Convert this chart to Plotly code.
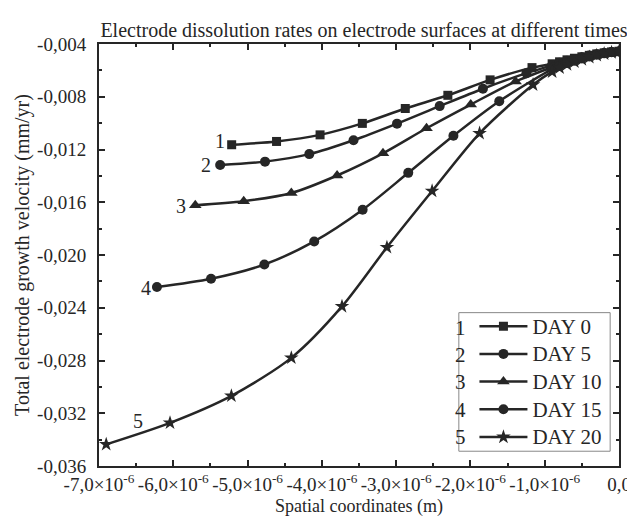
import plotly.graph_objects as go

# ---- data (x in m, y in mm/yr) ----
x_day0 = [-5.214e-6, -4.610e-6, -4.024e-6, -3.455e-6, -2.877e-6, -2.304e-6, -1.735e-6, -1.171e-6,
          -0.9e-6, -0.8e-6, -0.7e-6, -0.6e-6, -0.5e-6, -0.4e-6, -0.3e-6, -0.2e-6, -0.1e-6, 0.0]
y_day0 = [-0.01164, -0.01139, -0.01089, -0.01002, -0.00889, -0.00789, -0.00672, -0.00579,
          -0.00550, -0.00535, -0.00520, -0.00508, -0.00497, -0.00486, -0.00475, -0.00467, -0.00460, -0.00455]

x_day5 = [-5.369e-6, -4.765e-6, -4.169e-6, -3.574e-6, -2.988e-6, -2.414e-6, -1.832e-6, -1.246e-6,
          -0.9e-6, -0.8e-6, -0.7e-6, -0.6e-6, -0.5e-6, -0.4e-6, -0.3e-6, -0.2e-6, -0.1e-6, 0.0]
y_day5 = [-0.01317, -0.01292, -0.01235, -0.01130, -0.01004, -0.00871, -0.00739, -0.00621,
          -0.00561, -0.00543, -0.00527, -0.00513, -0.00500, -0.00488, -0.00477, -0.00468, -0.00461, -0.00456]

x_day10 = [-5.704e-6, -5.052e-6, -4.411e-6, -3.795e-6, -3.177e-6, -2.591e-6, -1.996e-6, -1.392e-6,
           -0.9e-6, -0.8e-6, -0.7e-6, -0.6e-6, -0.5e-6, -0.4e-6, -0.3e-6, -0.2e-6, -0.1e-6, 0.0]
y_day10 = [-0.01622, -0.01592, -0.01530, -0.01397, -0.01229, -0.01039, -0.00859, -0.00684,
           -0.00576, -0.00556, -0.00537, -0.00520, -0.00505, -0.00491, -0.00479, -0.00469, -0.00461, -0.00456]

x_day15 = [-6.220e-6, -5.492e-6, -4.774e-6, -4.103e-6, -3.451e-6, -2.837e-6, -2.229e-6, -1.612e-6,
           -0.9e-6, -0.8e-6, -0.7e-6, -0.6e-6, -0.5e-6, -0.4e-6, -0.3e-6, -0.2e-6, -0.1e-6, 0.0]
y_day15 = [-0.02243, -0.02180, -0.02072, -0.01897, -0.01657, -0.01377, -0.01096, -0.00834,
           -0.00590, -0.00566, -0.00545, -0.00527, -0.00510, -0.00495, -0.00482, -0.00471, -0.00462, -0.00456]

x_day20 = [-6.903e-6, -6.044e-6, -5.218e-6, -4.411e-6, -3.729e-6, -3.124e-6, -2.516e-6, -1.877e-6, -1.157e-6,
           -0.9e-6, -0.8e-6, -0.7e-6, -0.6e-6, -0.5e-6, -0.4e-6, -0.3e-6, -0.2e-6, -0.1e-6, 0.0]
y_day20 = [-0.03436, -0.03273, -0.03068, -0.02780, -0.02390, -0.01942, -0.01515, -0.01077, -0.00709,
           -0.00610, -0.00580, -0.00556, -0.00535, -0.00517, -0.00500, -0.00486, -0.00474, -0.00464, -0.00457]

series_names = ["DAY 0", "DAY 5", "DAY 10", "DAY 15", "DAY 20"]
series_numbers = ["1", "2", "3", "4", "5"]
series_symbols = ["square", "circle", "triangle-up", "circle", "star"]

x_tickvals = [-7e-6, -6e-6, -5e-6, -4e-6, -3e-6, -2e-6, -1e-6, 0.0]
x_ticktext = ["-7,0×10<sup>-6</sup>", "-6,0×10<sup>-6</sup>", "-5,0×10<sup>-6</sup>", "-4,0×10<sup>-6</sup>",
              "-3,0×10<sup>-6</sup>", "-2,0×10<sup>-6</sup>", "-1,0×10<sup>-6</sup>", "0,0"]
y_tickvals = [-0.036, -0.032, -0.028, -0.024, -0.020, -0.016, -0.012, -0.008, -0.004]
y_ticktext = ["-0,036", "-0,032", "-0,028", "-0,024", "-0,020", "-0,016", "-0,012", "-0,008", "-0,004"]

# curve label positions (data coords)
label_x = [-5.37e-6, -5.56e-6, -5.89e-6, -6.37e-6, -6.48e-6]
label_y = [-0.01134, -0.01314, -0.01629, -0.02248, -0.03261]

INK = "#262626"
FONT = "Liberation Serif, Times New Roman, serif"

xs = [x_day0, x_day5, x_day10, x_day15, x_day20]
ys = [y_day0, y_day5, y_day10, y_day15, y_day20]
sizes = [9, 10, 11, 10, 11]

fig = go.Figure()
for xv, yv, name, sym, sz in zip(xs, ys, series_names, series_symbols, sizes):
    fig.add_trace(go.Scatter(
        x=xv, y=yv, name='<span style="font-size:21px">' + name + '</span>', mode="lines+markers",
        line=dict(color=INK, width=2.5, shape="spline", smoothing=0.8),
        marker=dict(symbol=sym, size=sz, color=INK),
    ))

for t, lx, ly in zip(series_numbers, label_x, label_y):
    fig.add_annotation(x=lx, y=ly, xref="x", yref="y", text=t, showarrow=False,
                       font=dict(family=FONT, size=20, color=INK))

# legend frame and numbers
leg_x0, leg_x1 = 0.692, 0.983
leg_y0, leg_y1 = 0.035, 0.3634
fig.add_shape(type="rect", xref="paper", yref="paper", x0=leg_x0, x1=leg_x1, y0=leg_y0, y1=leg_y1,
              line=dict(color="#888888", width=1), fillcolor="white", layer="below")
row_px = [323, 350, 377, 405, 433]
for t, py in zip(series_numbers, row_px):
    fig.add_annotation(x=(467 - 91) / 530, y=(462 - py) / 426.5, xref="paper", yref="paper",
                       yanchor="middle", text=t, showarrow=False,
                       font=dict(family=FONT, size=21, color=INK))

axis_common = dict(
    showline=True, linecolor=INK, linewidth=2, mirror="ticks", ticks="inside",
    ticklen=6, tickwidth=1.5, tickcolor=INK, showgrid=False, zeroline=False,
    tickfont=dict(family=FONT, size=19, color=INK),
)

fig.update_layout(
    width=635, height=517,
    margin=dict(l=91, r=14, t=36, b=55),
    paper_bgcolor="white", plot_bgcolor="white",
    font=dict(family=FONT, color=INK),
    title=dict(text="Electrode dissolution rates on electrode surfaces at different times",
               x=(91 + 621) / 2 / 635, xanchor="center", y=1 - 22 / 517, yanchor="middle",
               font=dict(family=FONT, size=20, color=INK)),
    xaxis=dict(range=[-7e-6, 0], tickmode="array", tickvals=x_tickvals, ticktext=x_ticktext,
               minor=dict(tickmode="array", tickvals=[v + 0.5e-6 for v in x_tickvals[:-1]],
                          ticklen=3, tickwidth=1.5, tickcolor=INK, ticks="inside"),
               title=dict(text="Spatial coordinates (m)", font=dict(family=FONT, size=18, color=INK),
                          standoff=6),
               **axis_common),
    yaxis=dict(range=[-0.036, -0.004], tickmode="array", tickvals=y_tickvals, ticktext=y_ticktext,
               minor=dict(tickmode="array", tickvals=[v + 0.002 for v in y_tickvals[:-1]],
                          ticklen=3, tickwidth=1.5, tickcolor=INK, ticks="inside"),
               ticklabelstandoff=7,
               title=dict(text="Total electrode growth velocity (mm/yr)",
                          font=dict(family=FONT, size=20, color=INK), standoff=2),
               **axis_common),
    showlegend=True,
    legend=dict(x=0.722, y=0.376, xanchor="left", yanchor="top", bgcolor="rgba(0,0,0,0)",
                borderwidth=0, font=dict(family=FONT, size=19, color=INK),
                itemwidth=48, tracegroupgap=0),
)

fig.write_html("out.html")
